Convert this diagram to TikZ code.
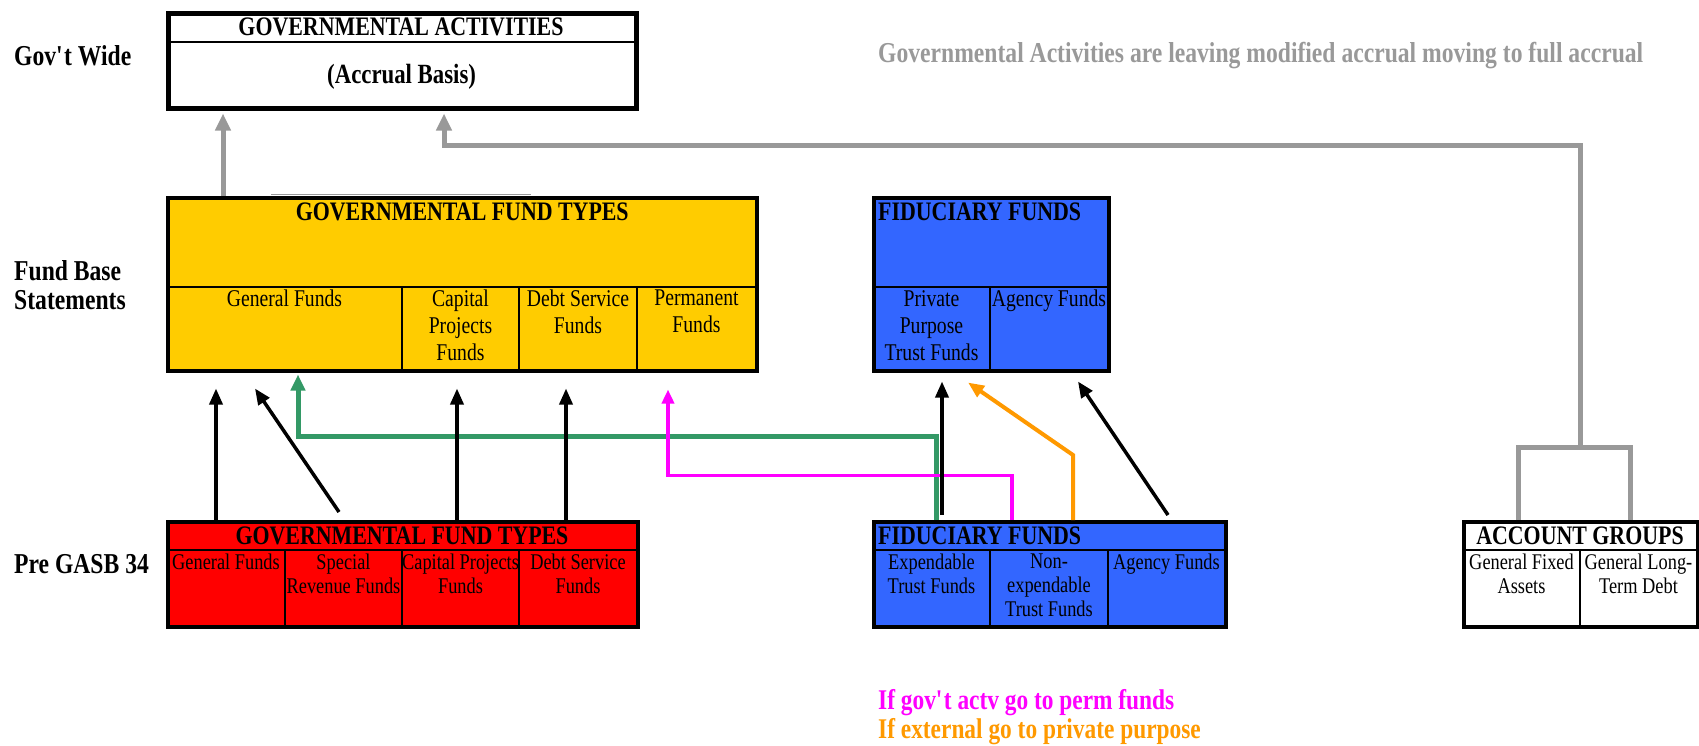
\documentclass[tikz,border=0pt]{standalone}
\usepackage{fontspec}
\setmainfont[FakeStretch=0.82]{Liberation Serif}
\usetikzlibrary{positioning,calc,arrows.meta}

\definecolor{fundyellow}{HTML}{FFCC00}
\definecolor{fidblue}{HTML}{3366FF}
\definecolor{fundred}{HTML}{FF0000}
\definecolor{linegray}{HTML}{999999}
\definecolor{seagreen}{HTML}{339966}
\definecolor{hotpink}{HTML}{FF00FF}
\definecolor{amber}{HTML}{FF9900}

\tikzset{
  boxframe/.style={draw, line width=3.5pt, anchor=north west, inner sep=0pt},
  cellbox/.style={draw, line width=2pt, anchor=north west, inner sep=0pt},
  uptext/.style={font=\fontsize{24}{27}\selectfont, align=center, inner sep=0pt},
  lowtext/.style={font=\fontsize{22.4}{24}\selectfont, align=center, inner sep=0pt},
  titletext/.style={font=\fontsize{26.7}{28}\selectfont\bfseries, inner sep=0pt},
  sidelabel/.style={font=\fontsize{28.8}{29}\selectfont\bfseries, anchor=west, align=left, inner sep=0pt},
  blackarrow/.style={line width=3.5pt, -{Triangle[length=16pt, width=13pt]}},
  grayline/.style={draw=linegray, line width=5pt},
  grayarrow/.style={grayline, -{Triangle[length=17pt, width=15pt]}},
}

\begin{document}
\begin{tikzpicture}[x=1pt, y=-1pt]
    \useasboundingbox (0,0) rectangle (1699,745);

    % side labels
    \node[sidelabel] (govwide) at (14,56) {Gov\textquotesingle t Wide};
    \node[sidelabel] (fundbase) at (14,285) {Fund Base\\Statements};
    \node[sidelabel] (pregasb) at (14,564) {Pre GASB 34};

    % gov't wide box
    \node[boxframe, line width=4.5pt, minimum width=468pt, minimum height=95pt] (gwa) at (166,11) {};
    \node[cellbox, minimum width=468pt, minimum height=30pt, titletext] (gwatitle) at (gwa.north west) {GOVERNMENTAL ACTIVITIES};
    \node[titletext, font=\fontsize{27.8}{28}\selectfont\bfseries] (accrual) at ($(gwatitle.south)!0.5!(gwa.south)$) {(Accrual Basis)};

    \node[anchor=west, inner sep=0pt, text=linegray, font=\fontsize{28.8}{29}\selectfont\bfseries] (graynote) at (878,56)
        {Governmental Activities are leaving modified accrual moving to full accrual};

    % fund base statements
    \node[boxframe, fill=fundyellow, minimum width=589pt, minimum height=173pt] (ygov) at (166,196) {};
    \node[titletext, below=7pt of ygov.north] (ygovtitle) {GOVERNMENTAL FUND TYPES};
    \node[cellbox, minimum width=235pt, minimum height=83pt] (ygen) at (166,286) {};
    \node[cellbox, minimum width=117pt, minimum height=83pt] (ycap) at (401,286) {};
    \node[cellbox, minimum width=118pt, minimum height=83pt] (ydebt) at (518,286) {};
    \node[cellbox, minimum width=119pt, minimum height=83pt] (yperm) at (636,286) {};
    \node[uptext, below=4pt of ygen.north] (ygen-t) {General Funds};
    \node[uptext, below=4pt of ycap.north] (ycap-t) {Capital\\Projects\\Funds};
    \node[uptext, below=4pt of ydebt.north] (ydebt-t) {Debt Service\\Funds};
    \node[uptext, below=4pt of yperm.north] (yperm-t) {Permanent\\Funds};
    \draw[linegray, line width=1.5pt] ($(ygov.north west)+(105,-1.5)$) -- ($(ygov.north west)+(365,-1.5)$);

    \node[boxframe, fill=fidblue, minimum width=235pt, minimum height=173pt] (pfid) at (872,196) {};
    \node[titletext, anchor=north west, below right=7pt and 6pt of pfid.north west] (pfidtitle) {FIDUCIARY FUNDS};
    \node[cellbox, minimum width=117pt, minimum height=83pt] (ppriv) at (872,286) {};
    \node[cellbox, minimum width=118pt, minimum height=83pt] (pagency) at (989,286) {};
    \node[uptext, below=4pt of ppriv.north] (ppriv-t) {Private\\Purpose\\Trust Funds};
    \node[uptext, below=4pt of pagency.north] (pagency-t) {Agency Funds};

    % pre gasb 34
    \node[boxframe, fill=fundred, minimum width=470pt, minimum height=105pt] (rgov) at (166,520) {};
    \node[cellbox, minimum width=470pt, minimum height=29pt, titletext] (rgovtitle) at (rgov.north west) {GOVERNMENTAL FUND TYPES};
    \node[cellbox, minimum width=118pt, minimum height=76pt] (rgen) at (166,549) {};
    \node[cellbox, minimum width=117pt, minimum height=76pt] (rspec) at (284,549) {};
    \node[cellbox, minimum width=117pt, minimum height=76pt] (rcap) at (401,549) {};
    \node[cellbox, minimum width=118pt, minimum height=76pt] (rdebt) at (518,549) {};
    \node[lowtext, below=5pt of rgen.north] (rgen-t) {General Funds};
    \node[lowtext, below=5pt of rspec.north] (rspec-t) {Special\\Revenue Funds};
    \node[lowtext, below=5pt of rcap.north] (rcap-t) {Capital Projects\\Funds};
    \node[lowtext, below=5pt of rdebt.north] (rdebt-t) {Debt Service\\Funds};

    \node[boxframe, fill=fidblue, minimum width=352pt, minimum height=105pt] (ofid) at (872,520) {};
    \node[cellbox, minimum width=352pt, minimum height=29pt] (ofidtitle) at (ofid.north west) {};
    \node[titletext, anchor=west, right=6pt of ofidtitle.west] (ofidtitle-t) {FIDUCIARY FUNDS};
    \node[cellbox, minimum width=117pt, minimum height=76pt] (oexp) at (872,549) {};
    \node[cellbox, minimum width=118pt, minimum height=76pt] (onon) at (989,549) {};
    \node[cellbox, minimum width=117pt, minimum height=76pt] (oagency) at (1107,549) {};
    \node[lowtext, below=5pt of oexp.north] (oexp-t) {Expendable\\Trust Funds};
    \node[lowtext, below=5pt of onon.north] (onon-t) {Non-\\expendable\\Trust Funds};
    \node[lowtext, below=5pt of oagency.north] (oagency-t) {Agency Funds};

    \node[boxframe, fill=white, minimum width=234pt, minimum height=105pt] (acct) at (1462,520) {};
    \node[cellbox, minimum width=234pt, minimum height=29pt, titletext] (accttitle) at (acct.north west) {ACCOUNT GROUPS};
    \node[cellbox, minimum width=117pt, minimum height=76pt] (afix) at (1462,549) {};
    \node[cellbox, minimum width=117pt, minimum height=76pt] (adebt) at (1579,549) {};
    \node[lowtext, below=5pt of afix.north] (afix-t) {General Fixed\\Assets};
    \node[lowtext, below=5pt of adebt.north] (adebt-t) {General Long-\\Term Debt};

    % notes
    \node[anchor=west, inner sep=0pt, text=hotpink, font=\fontsize{28.5}{29}\selectfont\bfseries] (permnote) at (878,703)
        {If gov\textquotesingle t actv go to perm funds};
    \node[anchor=west, inner sep=0pt, text=amber, font=\fontsize{28.5}{29}\selectfont\bfseries] (privnote) at (878,732)
        {If external go to private purpose};

    % gray connectors
    \draw[grayarrow, shorten >=3pt] ($(ygov.north west)+(57,0)$) -- ($(gwa.south west)+(57,0)$);
    \coordinate (ajoin) at ($(acct.north)+(0,-73)$);
    \coordinate (gbend) at ($(gwa.south west)+(278,35)$);
    \draw[grayline] ($(afix.north |- acct.north)+(-3,0)$) |- (ajoin) -| ($(adebt.north |- acct.north)+(-8,0)$);
    \draw[grayarrow, shorten >=3pt] (ajoin) |- (gbend) -- (gbend |- gwa.south);

    % colored connectors
    \draw[seagreen, line width=5pt, -{Triangle[length=16pt, width=14pt]}, shorten >=2pt]
        ($(ofid.north west)+(64,0)$) |- ($(ygov.south west)+(132,64)$) -- ($(ygov.south west)+(132,0)$);
    \draw[hotpink, line width=3.5pt, -{Triangle[length=14pt, width=12pt]}]
        ($(ofid.north west)+(140,0)$) |- ($(ygov.south west)+(502,103)$) -- ($(ygov.south west)+(502,17)$);
    \draw[amber, line width=4pt, -{Triangle[length=16pt, width=13pt]}]
        ($(ofid.north west)+(201,0)$) -- ($(ofid.north west)+(201,-65)$) -- ($(pfid.south west)+(96,10)$);

    % black connectors
    \coordinate (r1) at ($(rgov.north west)+(50,0)$);
    \coordinate (r3) at ($(rgov.north west)+(291,0)$);
    \coordinate (r4) at ($(rgov.north west)+(400,0)$);
    \draw[blackarrow, shorten >=16pt] (r1) -- (r1 |- ygov.south);
    \draw[blackarrow] ($(rgov.north west)+(173,-8)$) -- ($(ygov.south west)+(89,16)$);
    \draw[blackarrow, shorten >=16pt] (r3) -- (r3 |- ygov.south);
    \draw[blackarrow, shorten >=16pt] (r4) -- (r4 |- ygov.south);
    \draw[blackarrow] ($(ofid.north west)+(70,-5)$) -- ($(pfid.south west)+(70,9)$);
    \draw[blackarrow] ($(ofid.north west)+(296,-5)$) -- ($(pfid.south west)+(206,9)$);
\end{tikzpicture}
\end{document}
